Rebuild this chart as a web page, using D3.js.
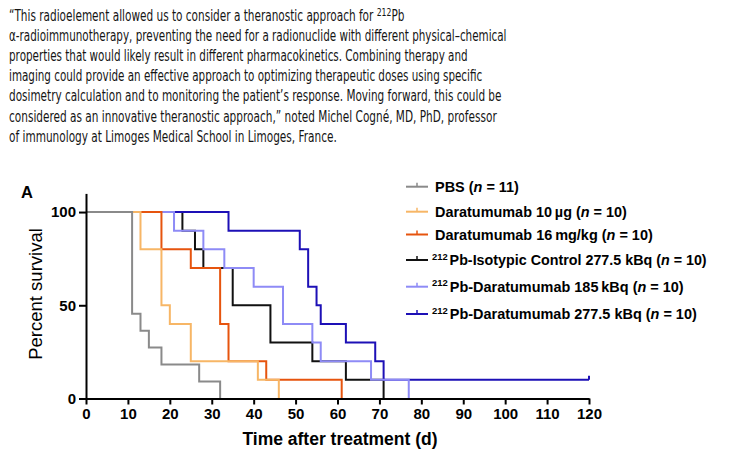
<!DOCTYPE html>
<html>
<head>
<meta charset="utf-8">
<script src="https://cdn.jsdelivr.net/npm/d3@7"></script>
<style>
  body { margin: 0; background: #fff; }
  svg { display: block; }
</style>
</head>
<body>
<div id="chart"></div>
<script>
// quote text above the figure
var quoteLines = [
  ["\u201CThis radioelement allowed us to consider a theranostic approach for ", "212", "Pb"],
  ["\u03B1-radioimmunotherapy, preventing the need for a radionuclide with different physical\u2013chemical"],
  ["properties that would likely result in different pharmacokinetics. Combining therapy and"],
  ["imaging could provide an effective approach to optimizing therapeutic doses using specific"],
  ["dosimetry calculation and to monitoring the patient\u2019s response. Moving forward, this could be"],
  ["considered as an innovative theranostic approach,\u201D noted Michel Cogn\u00E9, MD, PhD, professor"],
  ["of immunology at Limoges Medical School in Limoges, France."]
];
var quoteWidths = [396, 498, 459, 474, 493, 488, 328];

// survival curves: day of each step and survival (%) after it
var pbsDays   = [11, 13, 15, 18, 27, 32];
var pbsSurv   = [45.5, 36.4, 27.3, 18.2, 9.1, 0];
var dara10Days = [13, 18, 20, 25, 41, 46];
var dara10Surv = [80, 50, 40, 20, 10, 0];
var dara16Days = [18, 25, 32, 34, 43, 61];
var dara16Surv = [80, 70, 40, 20, 10, 0];
var isoDays   = [23, 26, 28, 35, 44, 54, 62, 71];
var isoSurv   = [90, 80, 70, 50, 30, 20, 10, 0];
var pb185Days = [21, 28, 33, 40, 47, 54, 56, 68, 77];
var pb185Surv = [90, 80, 70, 60, 40, 30, 20, 10, 0];
var pb277Days = [34, 51, 53, 55, 56, 62, 69, 71, 120];
var pb277Surv = [90, 80, 60, 50, 40, 30, 20, 10, 10];

var xTicks = [0, 10, 20, 30, 40, 50, 60, 70, 80, 90, 100, 110, 120];
var yTicks = [0, 50, 100];

// legend order (top to bottom)
var series = [
  {key: "pbs",    sup: "",    label: "PBS (", n: "11", days: pbsDays,    surv: pbsSurv,    color: "#8a8a8a"},
  {key: "dara10", sup: "",    label: "Daratumumab 10\u2009\u00B5g (", n: "10", days: dara10Days, surv: dara10Surv, color: "#f7b666"},
  {key: "dara16", sup: "",    label: "Daratumumab 16\u2009mg/kg (", n: "10", days: dara16Days, surv: dara16Surv, color: "#e6540e"},
  {key: "iso",    sup: "212", label: "Pb-Isotypic Control 277.5 kBq (", n: "10", days: isoDays, surv: isoSurv, color: "#111111"},
  {key: "pb185",  sup: "212", label: "Pb-Daratumumab 185\u2009kBq (", n: "10", days: pb185Days, surv: pb185Surv, color: "#8e8bf6"},
  {key: "pb277",  sup: "212", label: "Pb-Daratumumab 277.5 kBq (", n: "10", days: pb277Days, surv: pb277Surv, color: "#1d10b6"}
];
// drawing order, bottom to top
var drawOrder = ["iso", "pb277", "pb185", "dara16", "dara10", "pbs"];

var W = 733, H = 456;
var svg = d3.select("#chart").append("svg")
    .attr("width", W)
    .attr("height", H);

// squeeze a text element so it spans the given width
function fitWidth(sel, x, y, target) {
  var w = sel.node().getComputedTextLength();
  var k = target / w;
  sel.attr("x", 0).attr("y", 0)
     .attr("transform", "translate(" + x + "," + y + ") scale(" + k + ",1)");
}

// quote
quoteLines.forEach(function(parts, i) {
  var t = svg.append("text")
      .attr("font-family", "DejaVu Sans, Verdana, sans-serif")
      .attr("font-size", 15)
      .attr("fill", "#151515");
  t.append("tspan").text(parts[0]);
  if (parts.length > 1) {
    t.append("tspan").attr("font-size", 11).attr("dy", -5).text(parts[1]);
    t.append("tspan").attr("dy", 5).text(parts[2]);
  }
  fitWidth(t, 9, 21 + i * 20.1, quoteWidths[i]);
});

// chart
var xScale = d3.scaleLinear().domain([0, 120]).range([86, 589]);
var yScale = d3.scaleLinear().domain([0, 110]).range([398.5, 193.4]);

var line = d3.line()
    .x(function(d) { return xScale(d[0]); })
    .y(function(d) { return yScale(d[1]); })
    .curve(d3.curveStepAfter);

var byKey = {};
series.forEach(function(s) { byKey[s.key] = s; });

drawOrder.forEach(function(key) {
  var s = byKey[key];
  var pts = [[0, 100]];
  s.days.forEach(function(d, i) { pts.push([d, s.surv[i]]); });
  svg.append("path")
      .datum(pts)
      .attr("fill", "none")
      .attr("stroke", s.color)
      .attr("stroke-width", 2)
      .attr("d", line);
  // censor mark at the end of a curve that stays above zero
  var last = pts[pts.length - 1];
  if (last[1] > 0) {
    svg.append("line")
        .attr("x1", xScale(last[0])).attr("x2", xScale(last[0]))
        .attr("y1", yScale(last[1])).attr("y2", yScale(last[1]) - 4)
        .attr("stroke", s.color)
        .attr("stroke-width", 2);
  }
});

// axes
var xAxis = svg.append("g")
    .attr("transform", "translate(0," + yScale(0) + ")")
    .call(d3.axisBottom(xScale).tickValues(xTicks).tickSize(6).tickSizeOuter(0).tickPadding(4));
var yAxis = svg.append("g")
    .attr("transform", "translate(" + xScale(0) + ",0)")
    .call(d3.axisLeft(yScale).tickValues(yTicks).tickSize(7).tickSizeOuter(0).tickPadding(3));

[xAxis, yAxis].forEach(function(ax) {
  ax.selectAll("path, line").attr("stroke", "#000").attr("stroke-width", 2);
  ax.selectAll("text")
      .attr("fill", "#000")
      .attr("font-family", "Liberation Sans, Arial, sans-serif")
      .attr("font-weight", "bold")
      .attr("font-size", 15);
});

svg.append("text")
    .attr("x", 340).attr("y", 445)
    .attr("text-anchor", "middle")
    .attr("font-family", "Liberation Sans, Arial, sans-serif")
    .attr("font-weight", "bold")
    .attr("font-size", 17.5)
    .text("Time after treatment (d)");

svg.append("text")
    .attr("transform", "translate(42,294) rotate(-90)")
    .attr("text-anchor", "middle")
    .attr("font-family", "Liberation Sans, Arial, sans-serif")
    .attr("font-size", 18.5)
    .text("Percent survival");

svg.append("text")
    .attr("x", 21).attr("y", 198)
    .attr("font-family", "Liberation Sans, Arial, sans-serif")
    .attr("font-weight", "bold")
    .attr("font-size", 16.5)
    .text("A");

// legend
var legendY = [186.7, 211.7, 234.5, 260, 286.7, 314];
var legendEnd = [519, 627, 653, 705, 682, 695];
series.forEach(function(s, i) {
  var y = legendY[i];
  svg.append("line")
      .attr("x1", 406).attr("x2", 428).attr("y1", y).attr("y2", y)
      .attr("stroke", s.color).attr("stroke-width", 2);
  svg.append("line")
      .attr("x1", 417).attr("x2", 417).attr("y1", y).attr("y2", y - 4)
      .attr("stroke", s.color).attr("stroke-width", 1.5);
  var x0 = s.sup ? 432 : 435;
  var t = svg.append("text")
      .attr("font-family", "Liberation Sans, Arial, sans-serif")
      .attr("font-weight", "bold")
      .attr("font-size", 14.5)
      .attr("fill", "#000");
  if (s.sup) {
    t.append("tspan").attr("font-size", 9.5).attr("dy", -5.5).text(s.sup);
    t.append("tspan").attr("dy", 5.5).attr("dx", 2).text(s.label);
  } else {
    t.append("tspan").text(s.label);
  }
  t.append("tspan").attr("font-style", "italic").text("n");
  t.append("tspan").text(" = " + s.n + ")");
  fitWidth(t, x0, y + 5, legendEnd[i] - x0);
});
</script>
</body>
</html>
